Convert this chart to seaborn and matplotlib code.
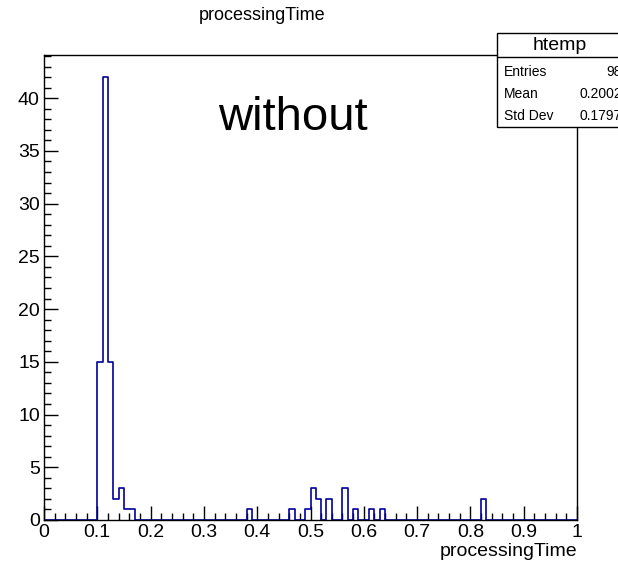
import numpy as np
import pandas as pd
import matplotlib
matplotlib.use("Agg")
import matplotlib.pyplot as plt
from matplotlib.patches import Rectangle
from matplotlib.ticker import MultipleLocator, FuncFormatter
import seaborn as sns

# bin lower edges (width 0.01) and their counts
# (the 98th entry is an overflow, not drawn)
bin_low = [0.10, 0.11, 0.12, 0.13, 0.14, 0.15, 0.16,
           0.38, 0.46, 0.49, 0.50, 0.51, 0.53, 0.56, 0.58, 0.61, 0.63,
           0.82]
counts = [15, 42, 15, 2, 3, 1, 1,
          1, 1, 1, 3, 2, 2, 3, 1, 1, 1,
          2]
stat_names = ["Entries", "Mean", "Std Dev"]
stat_values = ["98", "0.2002", "0.1797"]

df = pd.DataFrame({"processingTime": np.array(bin_low) + 0.005, "n": counts})

sns.set_style("ticks")
plt.rcParams["font.family"] = ["Liberation Sans", "DejaVu Sans"]
plt.rcParams["text.color"] = "black"
plt.rcParams["xtick.color"] = "black"
plt.rcParams["ytick.color"] = "black"
plt.rcParams["axes.edgecolor"] = "black"

W, H = 618, 567
fig = plt.figure(figsize=(W / 100, H / 100), dpi=100)
ax = fig.add_axes([44 / W, 1 - 520 / H, (577 - 44) / W, (520 - 55) / H])

sns.histplot(data=df, x="processingTime", weights="n", bins=100, binrange=(0, 1),
             element="step", fill=False, color="#000099", linewidth=1.2, ax=ax)

ax.set_xlim(0, 1)
ax.set_ylim(0, 44.1)
ax.xaxis.set_major_locator(MultipleLocator(0.1))
ax.xaxis.set_minor_locator(MultipleLocator(0.02))
ax.yaxis.set_major_locator(MultipleLocator(5))
ax.yaxis.set_minor_locator(MultipleLocator(1))
ax.xaxis.set_major_formatter(FuncFormatter(lambda v, p: f"{v:g}"))
ax.tick_params(which="major", direction="in", length=10, width=1, labelsize=14, pad=3)
ax.tick_params(which="minor", direction="in", length=5, width=1)
ax.set_xlabel("")
ax.set_ylabel("")
for s in ax.spines.values():
    s.set_linewidth(1)
    s.set_zorder(5)

ax.text(0.467, 0.865, "without", transform=ax.transAxes, ha="center", va="center",
        fontsize=34)

fig.text(262 / W, 1 - 15 / H, "processingTime", ha="center", va="center", fontsize=13)
fig.text(577 / W, 1 - 551 / H, "processingTime", ha="right", va="center", fontsize=14)

# stats box
fig.patches.append(Rectangle((497 / W, 1 - 127 / H), 130 / W, 94 / H,
                             transform=fig.transFigure, facecolor="white",
                             edgecolor="black", linewidth=1, zorder=10))
fig.lines.append(plt.Line2D([497 / W, 1], [1 - 57 / H, 1 - 57 / H],
                            transform=fig.transFigure, color="black", linewidth=1, zorder=11))
fig.text(560 / W, 1 - 46 / H, "htemp", ha="center", va="center", fontsize=14, zorder=12)
for i, (nm, val) in enumerate(zip(stat_names, stat_values)):
    y = 1 - (72 + 22 * i) / H
    fig.text(504 / W, y, nm, ha="left", va="center", fontsize=10, zorder=12)
    fig.text(622 / W, y, val, ha="right", va="center", fontsize=10, zorder=12)

fig.savefig("out.png", dpi=100)
